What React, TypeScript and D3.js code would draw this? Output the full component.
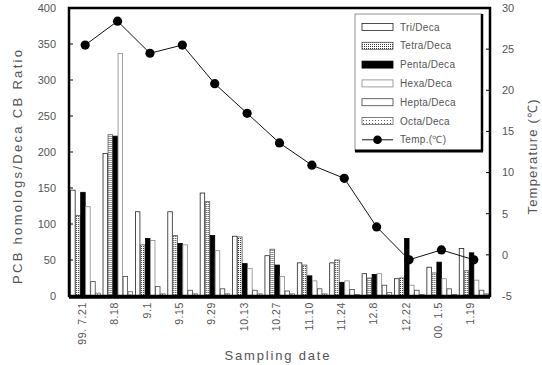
import React from "react";
import * as d3 from "d3";

// sampling dates (x categories)
const dates = ["99. 7.21", "8.18", "9.1", "9.15", "9.29", "10.13", "10.27", "11.10", "11.24", "12.8", "12.22", "00. 1.5", "1.19"];

// PCB homolog / Deca CB ratios
const tri = [147, 198, 117, 117, 143, 83, 56, 46, 46, 31, 24, 40, 66];
const tetra = [112, 224, 71, 84, 131, 82, 65, 43, 50, 25, 25, 32, 35];
const penta = [144, 222, 80, 73, 84, 45, 43, 28, 19, 30, 80, 47, 60];
const hexa = [124, 337, 77, 71, 63, 38, 27, 21, 21, 31, 15, 24, 22];
const hepta = [20, 27, 13, 8, 10, 8, 7, 10, 9, 15, 8, 10, 8];
const octa = [4, 6, 3, 3, 3, 3, 3, 3, 2, 5, 2, 2, 3];

// temperature (℃)
const temp = [25.5, 28.4, 24.5, 25.5, 20.8, 17.2, 13.6, 10.9, 9.3, 3.4, -0.6, 0.6, -0.6];

const seriesNames = ["Tri/Deca", "Tetra/Deca", "Penta/Deca", "Hexa/Deca", "Hepta/Deca", "Octa/Deca"];
const leftTicks = [0, 50, 100, 150, 200, 250, 300, 350, 400];
const rightTicks = [-5, 0, 5, 10, 15, 20, 25, 30];

const W = 542;
const H = 365;
const m = { left: 69, right: 490, top: 8, bottom: 296 };
const font = "'Liberation Sans', Arial, sans-serif";
const txt = "#555";

const fills = ["#fff", "url(#dots)", "#000", "#fff", "#fff", "url(#dots2)"];
const strokes = ["#222", "#555", "#000", "#888", "#444", "#666"];

export default function App() {
  const series = [tri, tetra, penta, hexa, hepta, octa];

  const x0 = d3.scaleBand<string>().domain(dates).range([m.left, m.right]).paddingInner(0.07).paddingOuter(0.035);
  const x1 = d3.scaleBand<string>().domain(seriesNames).range([0, x0.bandwidth()]);
  const y = d3.scaleLinear().domain([0, 400]).range([m.bottom, m.top]);
  const yT = d3.scaleLinear().domain([-5, 30]).range([m.bottom, m.top]);

  const line = d3
    .line<number>()
    .x((_, i) => (x0(dates[i]) as number) + x0.bandwidth() / 2)
    .y((d) => yT(d));

  const lg = { x: 355, y: 14, w: 127, h: 137 };
  const rowY = (i: number) => 27 + i * 18.8;

  return (
    <div style={{ position: "fixed", left: 0, top: 0 }}>
      <svg width={W} height={H} style={{ display: "block", background: "#fff" }}>
        <defs>
          <pattern id="dots" width="2" height="2" patternUnits="userSpaceOnUse">
            <rect width="2" height="2" fill="#fff" />
            <rect width="1" height="1" fill="#333" />
          </pattern>
          <pattern id="dots2" width="3" height="3" patternUnits="userSpaceOnUse">
            <rect width="3" height="3" fill="#fff" />
            <rect width="1" height="1" fill="#666" />
          </pattern>
        </defs>

        {/* bars */}
        {dates.map((d, i) => (
          <g key={d} transform={`translate(${x0(d)},0)`}>
            {series.map((s, k) => (
              <rect
                key={k}
                x={(x1(seriesNames[k]) as number) + 0.5}
                y={y(s[i])}
                width={x1.bandwidth() - 0.5}
                height={m.bottom - y(s[i])}
                fill={fills[k]}
                stroke={strokes[k]}
                strokeWidth={0.8}
              />
            ))}
          </g>
        ))}

        {/* temperature line */}
        <path d={line(temp) || ""} fill="none" stroke="#111" strokeWidth={1} />
        {temp.map((t, i) => (
          <circle key={i} cx={(x0(dates[i]) as number) + x0.bandwidth() / 2} cy={yT(t)} r={4.6} fill="#000" />
        ))}

        {/* frame */}
        <rect x={m.left} y={m.top} width={m.right - m.left} height={m.bottom - m.top} fill="none" stroke="#000" strokeWidth={2.5} />
        <line x1={m.left} x2={m.right} y1={m.bottom + 1} y2={m.bottom + 1} stroke="#000" strokeWidth={3.5} />

        {/* left axis */}
        {leftTicks.map((t) => (
          <g key={t}>
            <line x1={m.left} x2={m.left + 4} y1={y(t)} y2={y(t)} stroke="#000" />
            <text x={56} y={y(t)} dy="0.35em" textAnchor="end" fontSize={11} fontFamily={font} fill={txt}>
              {t}
            </text>
          </g>
        ))}

        {/* right axis */}
        {rightTicks.map((t) => (
          <g key={t}>
            <line x1={m.right - 4} x2={m.right} y1={yT(t)} y2={yT(t)} stroke="#000" />
            <text x={502} y={yT(t)} dy="0.35em" textAnchor="start" fontSize={11} fontFamily={font} fill={txt}>
              {t}
            </text>
          </g>
        ))}

        {/* x tick labels */}
        {dates.map((d) => {
          const cx = (x0(d) as number) + x0.bandwidth() / 2 - 3;
          return (
            <text
              key={d}
              transform={`translate(${cx},302) rotate(-90)`}
              dy="0.35em"
              textAnchor="end"
              fontSize={10.5}
              fontFamily={font}
              fill={txt}
              letterSpacing={0.6}
            >
              {d}
            </text>
          );
        })}

        {/* axis titles */}
        <text
          transform="translate(22,167) rotate(-90)"
          textAnchor="middle"
          fontSize={13}
          fontFamily={font}
          fill={txt}
          textLength={234}
          lengthAdjust="spacing"
        >
          PCB homologs/Deca  CB Ratio
        </text>
        <text
          transform="translate(537,157) rotate(-90)"
          textAnchor="middle"
          fontSize={13}
          fontFamily={font}
          fill={txt}
          textLength={115}
          lengthAdjust="spacing"
        >
          Temperature (℃)
        </text>
        <text x={277} y={360} textAnchor="middle" fontSize={13} fontFamily={font} fill={txt} textLength={105} lengthAdjust="spacing">
          Sampling date
        </text>

        {/* legend */}
        <rect x={lg.x} y={lg.y} width={lg.w} height={lg.h} fill="#fff" stroke="#777" strokeWidth={0.8} />
        <line x1={lg.x + lg.w} x2={lg.x + lg.w} y1={lg.y} y2={lg.y + lg.h} stroke="#000" strokeWidth={2.5} />
        <line x1={lg.x} x2={lg.x + lg.w + 1} y1={lg.y + lg.h} y2={lg.y + lg.h} stroke="#000" strokeWidth={3} />
        {seriesNames.map((n, k) => (
          <g key={n}>
            <rect x={362} y={rowY(k) - 3.5} width={31} height={7} fill={fills[k]} stroke={strokes[k]} strokeWidth={0.8} />
            <text x={400} y={rowY(k)} dy="0.35em" fontSize={10} fontFamily={font} fill={txt} letterSpacing={0.3}>
              {n}
            </text>
          </g>
        ))}
        <line x1={362} x2={393} y1={rowY(6)} y2={rowY(6)} stroke="#111" />
        <circle cx={377.5} cy={rowY(6)} r={4.3} fill="#000" />
        <text x={400} y={rowY(6)} dy="0.35em" fontSize={10} fontFamily={font} fill={txt} letterSpacing={0.3}>
          Temp.(℃)
        </text>
      </svg>
    </div>
  );
}
